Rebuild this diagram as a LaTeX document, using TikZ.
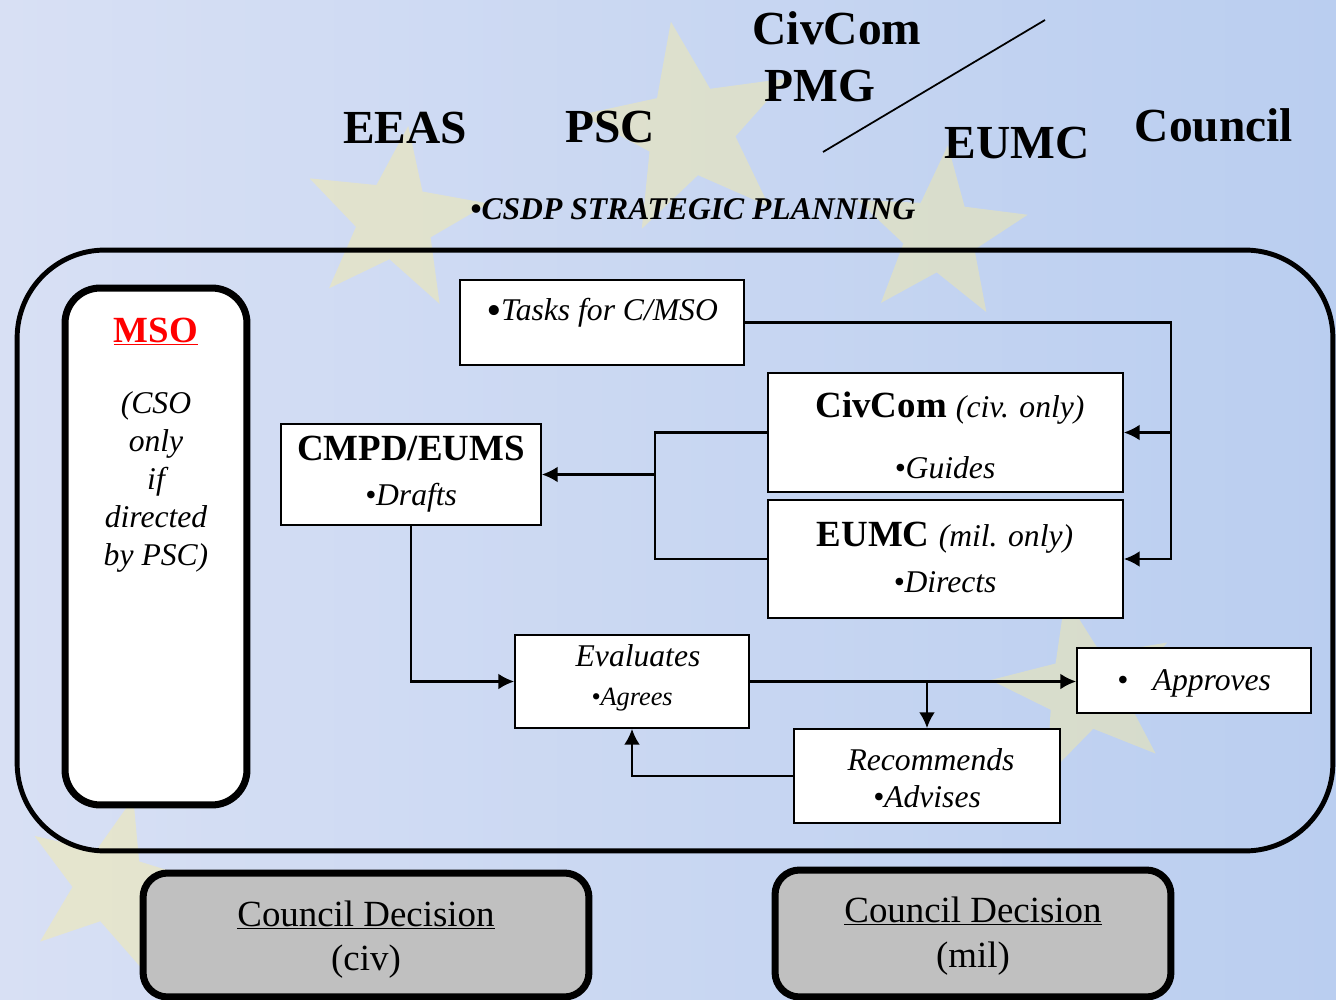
\documentclass[tikz,border=0pt]{standalone}
\usepackage{fontspec}
\setmainfont{Liberation Serif}
\usepackage{tikz}
\usetikzlibrary{arrows.meta,shapes.geometric}
\definecolor{bgl}{RGB}{216,224,244}
\definecolor{bgd}{RGB}{186,206,240}
\definecolor{starc}{RGB}{252,238,150}
\definecolor{cdgray}{RGB}{192,192,192}
\tikzstyle{bx}=[draw,fill=white,line width=1pt,inner sep=0pt]
\tikzstyle{rb}=[draw,fill=white,line width=4pt,rounded corners=20pt,inner sep=0pt]
\tikzstyle{cd}=[draw,fill=cdgray,line width=4pt,rounded corners=14pt,inner sep=0pt]
\tikzstyle{to}=[->,>={Latex[length=9pt,width=9pt]},line width=1.3pt]
\tikzstyle{ln}=[line width=1.3pt]
\tikzstyle{tt}=[inner sep=0pt,anchor=base]
\tikzstyle{hd}=[tt,font=\fontsize{27}{32}\selectfont\bfseries]
\tikzstyle{it}=[tt,font=\fontsize{18}{21}\selectfont\itshape]
\tikzstyle{bd}=[tt,font=\fontsize{21}{25}\selectfont\bfseries]
\tikzstyle{st}=[star,star points=5,star point ratio=2.4,fill=starc,opacity=0.4,inner sep=0pt]

\begin{document}
\begin{tikzpicture}[x=0.02cm,y=-0.02cm]
    \useasboundingbox (0,0) rectangle (1336,1000);
    \fill[left color=bgl,right color=bgd] (0,0) rectangle (1336,1000);
    % faint stars of the flag
    \node[st,minimum size=3.8cm,rotate=-8] (st1) at (395,220) {};
    \node[st,minimum size=4.4cm,rotate=10] (st2) at (690,130) {};
    \node[st,minimum size=3.6cm,rotate=-5] (st3) at (940,235) {};
    \node[st,minimum size=3.8cm,rotate=12] (st4) at (1085,690) {};
    \node[st,minimum size=3.6cm,rotate=-15] (st5) at (110,885) {};

    % headings
    \node[hd] (eeas) at (405,144) {EEAS};
    \node[hd] (psc) at (610,143) {PSC};
    \node[hd] (civ) at (837,45) {CivCom};
    \node[hd] (pmg) at (820,102) {PMG};
    \node[hd] (eumc) at (1017,159) {EUMC};
    \node[hd] (cncl) at (1214,142) {Council};
    \coordinate (s1) at (823,152);
    \coordinate (s2) at (1045,20);
    \draw[line width=1pt] (s1) -- (s2);
    \node[tt,font=\fontsize{18}{21}\selectfont\bfseries\itshape] (csdp) at (693,220) {•CSDP STRATEGIC PLANNING};

    % frame
    \node[draw,line width=2.8pt,rounded corners=50pt,minimum width=26.32cm,minimum height=12.02cm] (F) at (675,550.5) {};

    % MSO
    \node[rb,minimum width=3.64cm,minimum height=10.34cm] (M) at (156,546.5) {};
    \node[tt,font=\fontsize{21}{25}\selectfont\bfseries,text=red] (mso) at (156,342) {\underline{MSO}};
    \foreach \t [count=\i] in {{(CSO},only,if,directed,{by PSC)}}
        \node[it] (m\i) at (156,413+38*\i-38) {\t};

    % boxes
    \node[bx,minimum width=5.68cm,minimum height=1.7cm] (T) at (602,322.5) {};
    \node[tt,anchor=base west,font=\fontsize{18}{21}\selectfont\itshape] (tk) at (486,320) {\raisebox{-2.5pt}{\fontsize{24}{24}\selectfont\textbullet}Tasks for C/MSO};

    \node[bx,minimum width=7.1cm,minimum height=2.38cm] (CC) at (945.5,432.5) {};
    \node[bd] (cc1) at (950,418) {CivCom {\mdseries\itshape\fontsize{18}{21}\selectfont (civ. only)}};
    \node[it] (cc2) at (945,478) {•Guides};

    \node[bx,minimum width=7.1cm,minimum height=2.36cm] (EU) at (945.5,559) {};
    \node[bd] (eu1) at (945,546) {EUMC {\mdseries\itshape\fontsize{18}{21}\selectfont (mil. only)}};
    \node[it] (eu2) at (945,592) {•Directs};

    \node[bx,minimum width=5.2cm,minimum height=2.02cm] (CM) at (411,474.5) {};
    \node[bd] (cm1) at (411,460) {CMPD/EUMS};
    \node[it] (cm2) at (411,505) {•Drafts};

    \node[bx,minimum width=4.68cm,minimum height=1.86cm] (EV) at (632,681.5) {};
    \node[it] (ev1) at (638,666) {Evaluates};
    \node[it,font=\fontsize{15}{18}\selectfont\itshape] (ev2) at (632,705) {•Agrees};

    \node[bx,minimum width=4.68cm,minimum height=1.3cm] (AP) at (1194,680.5) {};
    \node[it] (ap1) at (1194,690) {•\hspace{14pt}Approves};

    \node[bx,minimum width=5.32cm,minimum height=1.88cm] (RC) at (927,776) {};
    \node[it] (rc1) at (931,770) {Recommends};
    \node[it] (rc2) at (927,807) {•Advises};

    % council decisions
    \node[cd,minimum width=8.92cm,minimum height=2.48cm] (CD1) at (366,935) {};
    \node[tt,font=\fontsize{21}{25}\selectfont] (cd1a) at (366,926) {\underline{Council Decision}};
    \node[tt,font=\fontsize{21}{25}\selectfont] (cd1b) at (366,970) {(civ)};
    \node[cd,minimum width=7.92cm,minimum height=2.54cm] (CD2) at (973,933.5) {};
    \node[tt,font=\fontsize{21}{25}\selectfont] (cd2a) at (973,922) {\underline{Council Decision}};
    \node[tt,font=\fontsize{21}{25}\selectfont] (cd2b) at (973,967) {(mil)};

    % connectors
    \coordinate (rt) at (1171,432.5);
    \coordinate (lj) at (655,474.5);
    \draw[to] (T.east) -| (EU.east -| rt) -- (EU.east);
    \draw[to] (rt) -- (CC.east);
    \draw[ln] (CC.west) -| (EU.west -| lj) -- (EU.west);
    \draw[to] (lj) -- (CM.east);
    \draw[to] (CM.south) |- (EV.west);
    \draw[to] (EV.east) -- (EV.east -| AP.west);
    \draw[to] (RC.north |- EV.east) -- (RC.north);
    \draw[to] (RC.west) -| (EV.south);
\end{tikzpicture}
\end{document}
